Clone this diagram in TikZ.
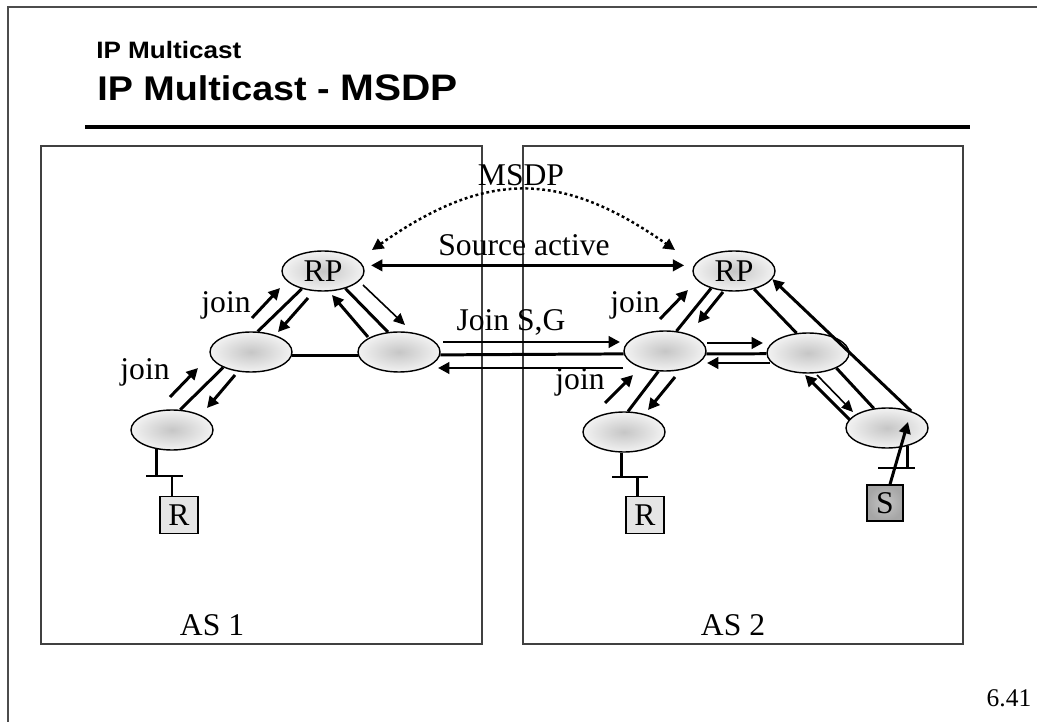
\documentclass[tikz,border=0pt]{standalone}
\usepackage{fontspec}
\setmainfont{Liberation Serif}
\newfontfamily\headfont{Liberation Sans}[FakeStretch=1.1]
\usetikzlibrary{shapes.geometric,arrows.meta,calc}

\tikzset{
  router/.style={ellipse, draw, line width=0.8pt, minimum width=1.64cm, minimum height=0.8cm,
    inner sep=0pt, inner color=gray!45, outer color=gray!10, font=\fontsize{18}{20}\selectfont},
  host/.style={rectangle, draw, line width=0.8pt, minimum width=0.76cm, minimum height=0.74cm,
    inner sep=0pt, fill=gray!20, font=\fontsize{18}{20}\selectfont},
  srchost/.style={host, minimum width=0.72cm, minimum height=0.72cm, inner color=gray!45, outer color=gray!70},
  link/.style={line width=1.7pt},
  arr/.style={line width=1.7pt, -{Triangle[length=6.5pt,width=6.5pt]}},
  thinarr/.style={line width=0.9pt, -{Triangle[length=6.5pt,width=6pt]}},
  lbl/.style={font=\fontsize{18}{20}\selectfont, inner sep=0pt},
  asbox/.style={black!75, line width=0.8pt},
}

\begin{document}
\begin{tikzpicture}[x=0.02cm, y=-0.02cm]
  \useasboundingbox (0,0) rectangle (1037,722);
  % slide frame and title
  \draw[black!70, line width=0.7pt] (8,722) -- (8,7) -- (1037,7);
  \node[anchor=base west, inner sep=0pt, font=\headfont\bfseries\fontsize{13.5}{16}\selectfont] (subtitle) at (96,59) {IP Multicast};
  \node[anchor=base west, inner sep=0pt, font=\headfont\bfseries\fontsize{19.5}{22}\selectfont] (title) at (97,101) {IP Multicast - {\fontsize{21}{22}\selectfont MSDP}};
  \draw[line width=2.8pt] (85,127) -- (970,127);

  % the two domains
  \draw[asbox] (41,146) rectangle (482,644);
  \draw[asbox] (523,146) rectangle (963,644);
  \node[lbl] (as1) at (212,625) {AS 1};
  \node[lbl] (as2) at (733,625) {AS 2};

  % routers AS 1
  \node[router] (rpA) at (323,271) {RP};
  \node[router] (aMid) at (251,352) {};
  \node[router] (aRight) at (399,352) {};
  \node[router] (aLow) at (172,430) {};
  % routers AS 2
  \node[router] (rpB) at (734,271) {RP};
  \node[router] (bMid) at (665,351) {};
  \node[router] (bRight) at (808,353) {};
  \node[router] (bLow) at (624,432) {};
  \node[router] (bSrc) at (887,428) {};

  % hosts
  \node[host] (rA) at (179,515) {R};
  \node[host] (rB) at (645,515) {R};
  \node[srchost] (src) at (885,503) {S};

  % links
  \draw[link] (rpA.220) -- (aMid.72);
  \draw[link] (rpA.322) -- (aRight.119);
  \draw[link] (aMid.-5) -- (aRight.185);
  \draw[link] (aMid.209) -- (aLow.68);
  \draw[link] (aRight.-4) -- (bMid.184);
  \draw[link] (rpB.217) -- (bMid.60);
  \draw[link] (rpB.318) -- (bRight.120);
  \draw[link] (bMid.-4) -- (bRight.181);
  \draw[link] (bMid.252) -- (bLow.79);
  \draw[link] (bRight.332) -- (bSrc.124);

  % LAN taps
  \coordinate (busA) at (172,476);
  \draw[link] (aLow.232) -- (aLow.232 |- busA);
  \draw[link] ($(busA)+(-26,0)$) -- ($(busA)+(11,0)$);
  \draw[link] (busA) -- (busA |- rA.north);
  \coordinate (busB) at (637,477);
  \draw[link] (bLow.263) -- (bLow.263 |- busB);
  \draw[link] ($(busB)+(-25,0)$) -- ($(busB)+(11,0)$);
  \draw[link] (busB) -- (busB |- rB.north);
  \coordinate (busS) at (896,468);
  \draw[link] (bSrc.319) -- (bSrc.319 |- busS);
  \draw[link] ($(busS)+(-18,0)$) -- ($(busS)+(19,0)$);
  \draw[arr] ($(src.north)+(5,0)$) -- ($(bSrc)+(21,-6)$);

  % joins and data in AS 1
  \draw[arr] (252,318) -- (280,288);
  \draw[arr] (308,298) -- (278,332);
  \draw[arr] (368,337) -- (332,295);
  \draw[thinarr] (363,285) -- (405,325);
  \draw[arr] (170,397) -- (198,368);
  \draw[arr] (235,375) -- (207,408);
  % between the domains
  \draw[arr] (443,342) -- (620,342);
  \draw[arr] (623,368) -- (438,368);
  % joins and data in AS 2
  \draw[arr] (660,319) -- (688,290);
  \draw[arr] (723,292) -- (698,323);
  \draw[arr] (605,403) -- (633,375);
  \draw[arr] (675,377) -- (648,410);
  \draw[arr] (707,343) -- (763,343);
  \draw[arr] (770,363) -- (707,363);
  \draw[arr] (850,420) -- (805,375);
  \draw[thinarr] (817,375) -- (853,412);
  \draw[arr] (bSrc.35) -- (rpB.348);

  % RP to RP
  \draw[line width=1.7pt, {Triangle[length=6.5pt,width=6.5pt]}-{Triangle[length=6.5pt,width=6.5pt]},
    shorten <=4.5pt, shorten >=5.5pt] (rpA.8) -- (rpB.172);
  \coordinate (msdpA) at ($(rpA)+(49,-21)$);
  \coordinate (msdpB) at ($(rpB)+(-59,-21)$);
  \draw[line width=1.4pt, dash pattern=on 1.6pt off 1.6pt,
    {Triangle[length=6.5pt,width=6.5pt]}-{Triangle[length=6.5pt,width=6.5pt]}]
    (msdpA) .. controls ($(msdpA)+(114,-80)$) and ($(msdpB)+(-114,-80)$) .. (msdpB);

  % labels
  \node[lbl] (joinA) at (226,305) {join};
  \node[lbl] (joinB) at (145,372) {join};
  \node[lbl] (joinC) at (635,305) {join};
  \node[lbl] (joinD) at (580,382) {join};
  \node[lbl] (sg) at (511,322) {Join S,G};
  \node[lbl] (sa) at (524,245) {Source active};
  \node[lbl] (msdp) at (521,175) {MSDP};
  \node[lbl, font=\fontsize{14.5}{16}\selectfont] (page) at (1009,698) {6.41};
\end{tikzpicture}
\end{document}
